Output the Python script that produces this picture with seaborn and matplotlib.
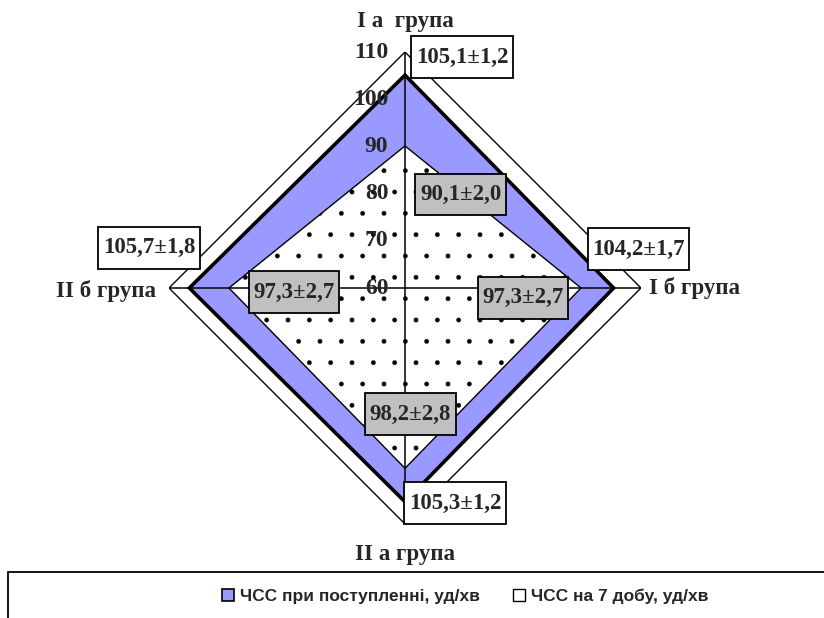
import numpy as np
import seaborn as sns
import matplotlib.pyplot as plt
from matplotlib.patches import Patch, Rectangle
from matplotlib.path import Path

# Data
groups = ["I а  група", "I б група", "II а група", "II б група"]
hr_admission = [105.1, 104.2, 105.3, 105.7]
hr_admission_err = [1.2, 1.7, 1.2, 1.8]
hr_day7 = [90.1, 97.3, 98.2, 97.3]
hr_day7_err = [2.0, 2.7, 2.8, 2.7]
r_ticks = [60, 70, 80, 90, 100, 110]
series_names = ["ЧСС при поступленні, уд/хв", "ЧСС на 7 добу, уд/хв"]

# drawn at 128 dpi so the dot hatch gets a coarser spacing;
# K turns "points at 100 dpi" into points at this dpi
DPI = 128
K = 100 / DPI

sns.set_style("white")
plt.rcParams['font.family'] = ['Liberation Serif', 'DejaVu Serif']
plt.rcParams['hatch.linewidth'] = 0.3 * K

blue = "#9999FF"
grey = "#C0C0C0"


def fmt(v, e):
    return f"{v:.1f}".replace(".", ",") + "±" + f"{e:.1f}".replace(".", ",")


def tall_box(x0, y0, width, height, mutation_size):
    # rectangle with more vertical padding than horizontal (like Excel labels)
    px = 0.2 * mutation_size
    py = 0.45 * mutation_size
    x0, y0 = x0 - px, y0 - py
    x1, y1 = x0 + width + 2 * px, y0 + height + 2 * py
    return Path([(x0, y0), (x1, y0), (x1, y1), (x0, y1), (x0, y0)], closed=True)


W, H = 824, 618
fig = plt.figure(figsize=(W / DPI, H / DPI), dpi=DPI)
cx, cy, rad = 405, 288, 236
ax = fig.add_axes([(cx - rad) / W, (H - cy - rad) / H, 2 * rad / W, 2 * rad / H],
                  projection="polar")
ax.set_theta_zero_location("N")
ax.set_theta_direction(-1)
ax.set_ylim(r_ticks[0], r_ticks[-1])
ax.set_xticks([])
ax.set_yticks([])
ax.grid(False)
ax.spines["polar"].set_visible(False)
ax.patch.set_visible(False)

theta = np.linspace(0, 2 * np.pi, len(groups), endpoint=False)
tc = np.append(theta, theta[0])

# outer frame polygon at max value
rmax = [r_ticks[-1]] * (len(groups) + 1)
ax.fill(tc, rmax, facecolor="white", edgecolor="black", lw=1.0 * K, zorder=1)

# series 1 - admission
a = hr_admission + hr_admission[:1]
ax.fill(tc, a, facecolor=blue, edgecolor="black", lw=2.6 * K, zorder=2)

# series 2 - day 7 (dotted)
d = hr_day7 + hr_day7[:1]
ax.fill(tc, d, facecolor="white", edgecolor="black", hatch=".", lw=1.0 * K, zorder=3)

# axis lines
for t in theta:
    ax.plot([t, t], [r_ticks[0], r_ticks[-1]], color="black", lw=1.1 * K, zorder=4)

# radial tick labels along top axis
for r in r_ticks:
    ax.annotate(str(r), xy=(0, r), xytext=(-12 * K, 0), textcoords="offset points",
                ha="right", va="center", fontsize=17 * K, fontweight="bold", zorder=6)

# data labels (offsets in px-ish points at 100 dpi)
adm_off = [(41, 13), (18, 28), (36, -1), (-29, 29)]
day_off = [(40, -35), (-42, -7), (4, 39), (47, -3)]
for i, t in enumerate(theta):
    ax.annotate(fmt(hr_admission[i], hr_admission_err[i]), xy=(t, hr_admission[i]),
                xytext=(adm_off[i][0] * K, adm_off[i][1] * K), textcoords="offset points",
                ha="center", va="center", fontsize=16.5 * K, fontweight="bold", zorder=7,
                bbox=dict(boxstyle=tall_box, facecolor="white", edgecolor="black", lw=1.3 * K))
    ax.annotate(fmt(hr_day7[i], hr_day7_err[i]), xy=(t, hr_day7[i]),
                xytext=(day_off[i][0] * K, day_off[i][1] * K), textcoords="offset points",
                ha="center", va="center", fontsize=16.5 * K, fontweight="bold", zorder=7,
                bbox=dict(boxstyle=tall_box, facecolor=grey, edgecolor="black", lw=1.3 * K))

# category labels
cat_off = [(0, 22), (6, 0), (0, -22), (-9, -2)]
cat_ha = ["center", "left", "center", "right"]
for i, t in enumerate(theta):
    ax.annotate(groups[i], xy=(t, r_ticks[-1]), xytext=(cat_off[i][0] * K, cat_off[i][1] * K),
                textcoords="offset points", ha=cat_ha[i], va="center",
                fontsize=16.5 * K, fontweight="bold")

# legend with frame running off the figure edge
fig.patches.append(Rectangle((8 / W, -0.05), 1.1, 0.05 + (H - 572) / H,
                             transform=fig.transFigure, facecolor="none",
                             edgecolor="black", lw=1.3 * K))
handles = [Patch(facecolor=blue, edgecolor="black", lw=1.2 * K),
           Patch(facecolor="white", edgecolor="black", lw=1.0 * K)]
fig.legend(handles, series_names, loc="center left", bbox_to_anchor=(222 / W, 1 - 596 / H),
           ncol=2, frameon=False, borderpad=0, borderaxespad=0,
           handlelength=0.7, handleheight=0.7, handletextpad=0.35, columnspacing=1.9,
           prop={"family": "Liberation Sans", "weight": "bold", "size": 12.5 * K})

fig.savefig("out.png", dpi=DPI)
